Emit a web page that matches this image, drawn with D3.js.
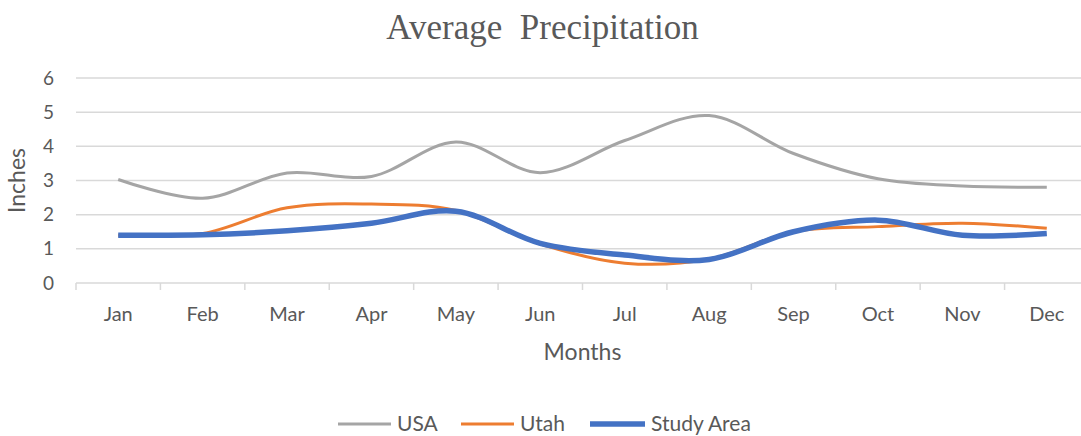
<!DOCTYPE html>
<html>
<head>
<meta charset="utf-8">
<script src="https://cdnjs.cloudflare.com/ajax/libs/d3/7.8.5/d3.min.js"></script>
<style>
  html, body { margin: 0; padding: 0; background: #ffffff; }
  svg { display: block; }
</style>
</head>
<body>
<svg id="chart" width="1081" height="436"></svg>
<script>
// Monthly average precipitation (inches)
const months = ["Jan", "Feb", "Mar", "Apr", "May", "Jun", "Jul", "Aug", "Sep", "Oct", "Nov", "Dec"];
const usa       = [3.03, 2.48, 3.22, 3.12, 4.13, 3.23, 4.17, 4.9, 3.79, 3.05, 2.84, 2.8];
const utah      = [1.4, 1.45, 2.2, 2.31, 2.12, 1.14, 0.58, 0.7, 1.5, 1.65, 1.75, 1.6];
const studyArea = [1.4, 1.41, 1.53, 1.75, 2.1, 1.16, 0.82, 0.69, 1.5, 1.84, 1.4, 1.45];
const yTicks = [0, 1, 2, 3, 4, 5, 6];
const seriesNames = ["USA", "Utah", "Study Area"];

const series = [
  { name: seriesNames[0], values: usa,       color: "#A5A5A5", width: 3 },
  { name: seriesNames[1], values: utah,      color: "#ED7D31", width: 3 },
  { name: seriesNames[2], values: studyArea, color: "#4472C4", width: 5.5 }
];

const svg = d3.select("#chart");
const W = 1081, H = 436;
const plot = { left: 76, right: 1089, top: 78, bottom: 283 };
const textColor = "#595959";
const gridColor = "#D9D9D9";
const sans = "Lato, 'Open Sans', sans-serif";

const x = d3.scaleBand().domain(months).range([plot.left, plot.right]).paddingInner(0).paddingOuter(0);
const y = d3.scaleLinear().domain([0, 6]).range([plot.bottom, plot.top]);

// Title
svg.append("text")
  .attr("x", W / 2 + 2)
  .attr("y", 39)
  .attr("text-anchor", "middle")
  .attr("fill", textColor)
  .style("font-family", "'Liberation Serif', 'Times New Roman', serif")
  .style("font-size", "35px")
  .style("white-space", "pre")
  .text("Average  Precipitation");

// Horizontal gridlines
svg.append("g")
  .selectAll("line")
  .data(yTicks.filter(d => d > 0))
  .join("line")
  .attr("x1", plot.left).attr("x2", plot.right)
  .attr("y1", d => y(d)).attr("y2", d => y(d))
  .attr("stroke", gridColor).attr("stroke-width", 1.5);

// Y axis labels
const yAxis = d3.axisLeft(y).tickValues(yTicks).tickSize(0).tickPadding(22).tickFormat(d3.format("d"));
const gy = svg.append("g").attr("transform", `translate(${plot.left},0)`).call(yAxis);
gy.select(".domain").remove();
gy.selectAll("text")
  .attr("fill", textColor)
  .style("font-family", sans)
  .style("font-size", "19px");

// X axis: category boundaries ticked, labels centered in bands
const gx = svg.append("g").attr("transform", `translate(0,${plot.bottom})`);
gx.append("line")
  .attr("x1", plot.left).attr("x2", plot.right)
  .attr("stroke", gridColor).attr("stroke-width", 1.5);
const boundaries = months.map(m => x(m)).concat([x(months[months.length - 1]) + x.bandwidth()]);
gx.selectAll("line.tick")
  .data(boundaries)
  .join("line")
  .attr("class", "tick")
  .attr("x1", d => d).attr("x2", d => d)
  .attr("y1", 0).attr("y2", 7)
  .attr("stroke", gridColor).attr("stroke-width", 1.5);
gx.selectAll("text")
  .data(months)
  .join("text")
  .attr("x", d => x(d) + x.bandwidth() / 2)
  .attr("y", 38)
  .attr("text-anchor", "middle")
  .attr("fill", textColor)
  .style("font-family", sans)
  .style("font-size", "20px")
  .text(d => d);

// Axis titles
svg.append("text")
  .attr("x", (plot.left + plot.right) / 2)
  .attr("y", 360)
  .attr("text-anchor", "middle")
  .attr("fill", textColor)
  .style("font-family", sans)
  .style("font-size", "23px")
  .text("Months");

svg.append("text")
  .attr("transform", `translate(25,${(plot.top + plot.bottom) / 2}) rotate(-90)`)
  .attr("text-anchor", "middle")
  .attr("fill", textColor)
  .style("font-family", sans)
  .style("font-size", "23px")
  .text("Inches");

// Smoothed series lines
const line = d3.line()
  .x((d, i) => x(months[i]) + x.bandwidth() / 2)
  .y(d => y(d))
  .curve(d3.curveCatmullRom.alpha(0.5));

svg.append("g")
  .selectAll("path")
  .data(series)
  .join("path")
  .attr("d", d => line(d.values))
  .attr("fill", "none")
  .attr("stroke", d => d.color)
  .attr("stroke-width", d => d.width)
  .attr("stroke-linecap", "butt")
  .attr("stroke-linejoin", "round");

// Legend
const legendItems = [
  { s: series[0], lx: 338, tx: 397 },
  { s: series[1], lx: 461, tx: 520 },
  { s: series[2], lx: 590, tx: 651 }
];
const lg = svg.append("g").attr("transform", "translate(0,424)");
legendItems.forEach(item => {
  lg.append("line")
    .attr("x1", item.lx).attr("x2", item.tx - 6)
    .attr("y1", 0).attr("y2", 0)
    .attr("stroke", item.s.color)
    .attr("stroke-width", item.s.width);
  lg.append("text")
    .attr("x", item.tx)
    .attr("y", 7)
    .attr("fill", textColor)
    .style("font-family", sans)
    .style("font-size", "21px")
    .text(item.s.name);
});
</script>
</body>
</html>
